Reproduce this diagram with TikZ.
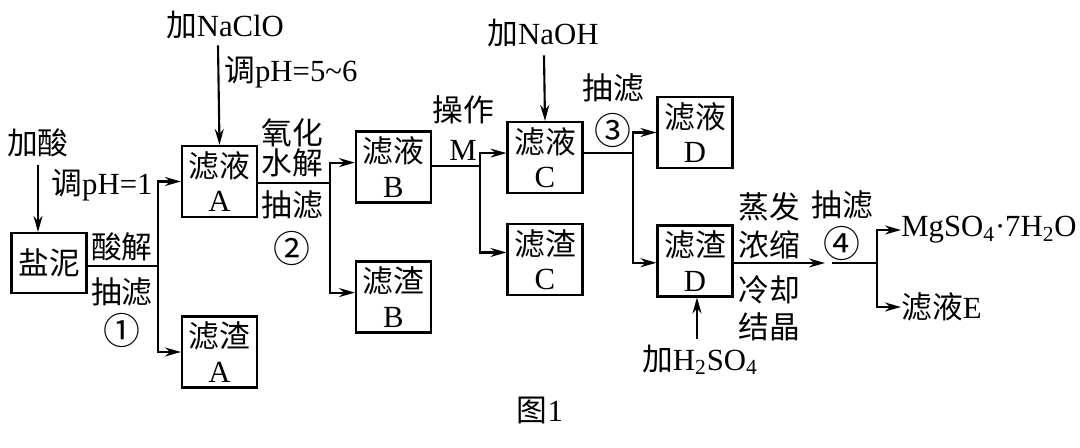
\documentclass[tikz,border=0pt]{standalone}
\usepackage{fontspec}
\setmainfont{Liberation Serif}
\newfontfamily\cjk{Noto Sans CJK SC}
\usetikzlibrary{arrows.meta}
\newcommand{\circnum}[1]{{\fontsize{21}{21}\selectfont\cjk #1}}
\begin{document}
\begin{tikzpicture}[x=0.02cm,y=-0.02cm,
  every node/.style={font=\fontsize{17.5}{19.5}\selectfont, inner sep=0pt},
  box/.style={draw, line width=1.2pt, minimum width=1.5cm, minimum height=1.42cm, align=center},
  ln/.style={line width=1.2pt},
  arr/.style={line width=1.2pt, -{Stealth[length=0.32cm,width=0.18cm]}},
  lbl/.style={align=center}]
\useasboundingbox (0,0) rectangle (1080,448);
% boxes
\node[box, minimum height=1.2cm] (yn) at (49,263) {\cjk 盐泥};
\node[box] (lyA) at (219.5,181.5) {{\cjk 滤液}\\A};
\node[box] (lzA) at (219.5,352) {{\cjk 滤渣}\\A};
\node[box] (lyB) at (393.5,167) {{\cjk 滤液}\\B};
\node[box] (lzB) at (393.5,297) {{\cjk 滤渣}\\B};
\node[box] (lyC) at (545,157.5) {{\cjk 滤液}\\C};
\node[box] (lzC) at (545,259.5) {{\cjk 滤渣}\\C};
\node[box] (lyD) at (695,132.5) {{\cjk 滤液}\\D};
\node[box] (lzD) at (695,261) {{\cjk 滤渣}\\D};
% labels
\node (jiasuan) at (38,143) {\cjk 加酸};
\node (ph1) at (102,185) {{\cjk 调}pH=1};
\node (sj) at (122,247) {\cjk 酸解};
\node (cl1) at (122,292) {\cjk 抽滤};
\node (c1) at (122,330) {\circnum{①}};
\node (naclo) at (225,25) {{\cjk 加}NaClO};
\node[anchor=west] (ph56) at (224,72) {{\cjk 调}pH=5\textasciitilde6};
\node (yh) at (292,133) {\cjk 氧化};
\node (sjj) at (292,163) {\cjk 水解};
\node (cl2) at (292,205) {\cjk 抽滤};
\node (c2) at (292,248) {\circnum{②}};
\node (cz) at (463,110) {\cjk 操作};
\node (m) at (463,150) {M};
\node (naoh) at (543,33) {{\cjk 加}NaOH};
\node (cl3) at (613,88) {\cjk 抽滤};
\node (c3) at (613,130) {\circnum{③}};
\node (h2so4) at (700,360) {{\cjk 加}H\textsubscript{2}SO\textsubscript{4}};
\node[anchor=west] (zf) at (738,207) {\cjk 蒸发};
\node[anchor=west] (ns) at (738,245) {\cjk 浓缩};
\node[anchor=west] (lq) at (738,290) {\cjk 冷却};
\node[anchor=west] (jj) at (738,327) {\cjk 结晶};
\node (cl4) at (842,205) {\cjk 抽滤};
\node (c4) at (842,243) {\circnum{④}};
\node[anchor=west] (mg) at (901,230) {MgSO\textsubscript{4}·7H\textsubscript{2}O};
\node[anchor=west] (lyE) at (901,307) {{\cjk 滤液}E};
\node (fig) at (540,410) {{\cjk 图}1};
% junction coordinates
\coordinate (j1) at (158,266);
\coordinate (j2) at (330,183);
\coordinate (j3) at (480,166);
\coordinate (j4) at (633,153);
\coordinate (e4) at (825,263);
\coordinate (s5) at (832,263);
\coordinate (j5) at (877,263);
% connectors
\draw[arr] (jiasuan.south) ++(0,8) -- (yn.north -| jiasuan.south);
\draw[ln] (yn.east |- j1) -- (j1);
\draw[arr] (j1) |- (lyA.west);
\draw[arr] (j1) |- (lzA.west);
\draw[arr] (naclo.south) ++(-7,6) -- (lyA.north);
\draw[ln] (lyA.east |- j2) -- (j2);
\draw[arr] (j2) |- ([yshift=2.5pt]lyB.west);
\draw[arr] (j2) |- ([yshift=2.5pt]lzB.west);
\draw[ln] (lyB.east |- j3) -- (j3);
\draw[arr] (j3) |- ([yshift=2.5pt]lyC.west);
\draw[arr] (j3) |- ([yshift=4pt]lzC.west);
\draw[arr] (naoh.south) ++(1,8) -- (lyC.north);
\draw[ln] (lyC.east |- j4) -- (j4);
\draw[arr] (j4) |- (lyD.west);
\draw[arr] (j4) |- ([yshift=-1pt]lzD.west);
\draw[arr] (h2so4.north) ++(-3,-6) -- (lzD.south -| 697,0);
\draw[arr] (lzD.east |- e4) -- (e4);
\draw[ln] (s5) -- (j5);
\draw[arr] (j5) |- (mg.west);
\draw[arr] (j5) |- (lyE.west);
\end{tikzpicture}
\end{document}
